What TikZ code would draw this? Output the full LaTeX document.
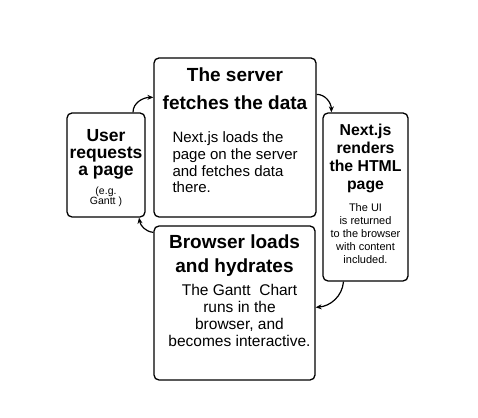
\documentclass[tikz,border=0pt]{standalone}
\usepackage{fontspec}
\setmainfont{Liberation Sans}
\usetikzlibrary{positioning,arrows.meta}

\begin{document}
\begin{tikzpicture}[x=1pt,y=1pt,
    stage/.style={draw, line width=1.3pt, rounded corners=5pt, inner sep=0pt},
    head/.style={inner sep=0pt, align=center},
    flow/.style={-{Stealth[length=6pt,width=5pt]}, line width=1.2pt}]
    \useasboundingbox (0,0) rectangle (478,417);
    % Draw the four stages
    \node[stage, minimum width=78pt, minimum height=104pt] (user) at (106,252) {};
    \node[stage, minimum width=162pt, minimum height=159pt] (server) at (235,279.5) {};
    \node[stage, minimum width=85pt, minimum height=168pt] (render) at (365.5,220) {};
    \node[stage, minimum width=161pt, minimum height=154pt] (browser) at (234.5,114) {};
    % Text of the user stage
    \node[head, below=17pt of user.north,
        font=\fontsize{17.5}{17}\selectfont\bfseries] (usertitle)
        {User\\requests\\a page};
    \node[head, below=74pt of user.north,
        font=\fontsize{10.5}{10.5}\selectfont] (usernote) {(e.g.\\Gantt )};
    % Text of the server stage
    \node[head, below=10pt of server.north,
        font=\fontsize{19}{28}\selectfont\bfseries] (servertitle)
        {The server\\fetches the data};
    \node[head, align=left, below right=74pt and 19pt of server.north west,
        font=\fontsize{15}{16.8}\selectfont] (servertext)
        {Next.js loads the\\page on the server\\and fetches data\\there.};
    % Text of the render stage
    \node[head, below=12pt of render.north,
        font=\fontsize{15.8}{18}\selectfont\bfseries] (rendertitle)
        {Next.js\\renders\\the HTML\\page};
    \node[head, below=91pt of render.north,
        font=\fontsize{11}{13}\selectfont] (rendertext)
        {The UI\\is returned\\to the browser\\with content\\included.};
    % Text of the browser stage
    \node[head, below=9pt of browser.north,
        font=\fontsize{19}{24}\selectfont\bfseries] (browsertitle)
        {Browser loads\\and hydrates};
    \node[head, below=59pt of browser.north, xshift=5pt,
        font=\fontsize{15.5}{17}\selectfont] (browsertext)
        {The Gantt\ \ Chart\\runs in the\\browser, and\\becomes interactive.};
    % Arrows round the cycle
    \draw[flow] ([xshift=27pt]user.north) to[out=90, in=180] ([yshift=-40pt]server.north west);
    \draw[flow] ([yshift=-37pt]server.north east) to[out=0, in=90] ([xshift=9pt]render.north west);
    \draw[flow] ([xshift=-22pt]render.south) to[out=-95, in=5] ([yshift=-82pt]browser.north east);
    \draw[flow] ([yshift=-7pt]browser.north west) to[out=175, in=-80] ([xshift=33pt]user.south);
\end{tikzpicture}
\end{document}
